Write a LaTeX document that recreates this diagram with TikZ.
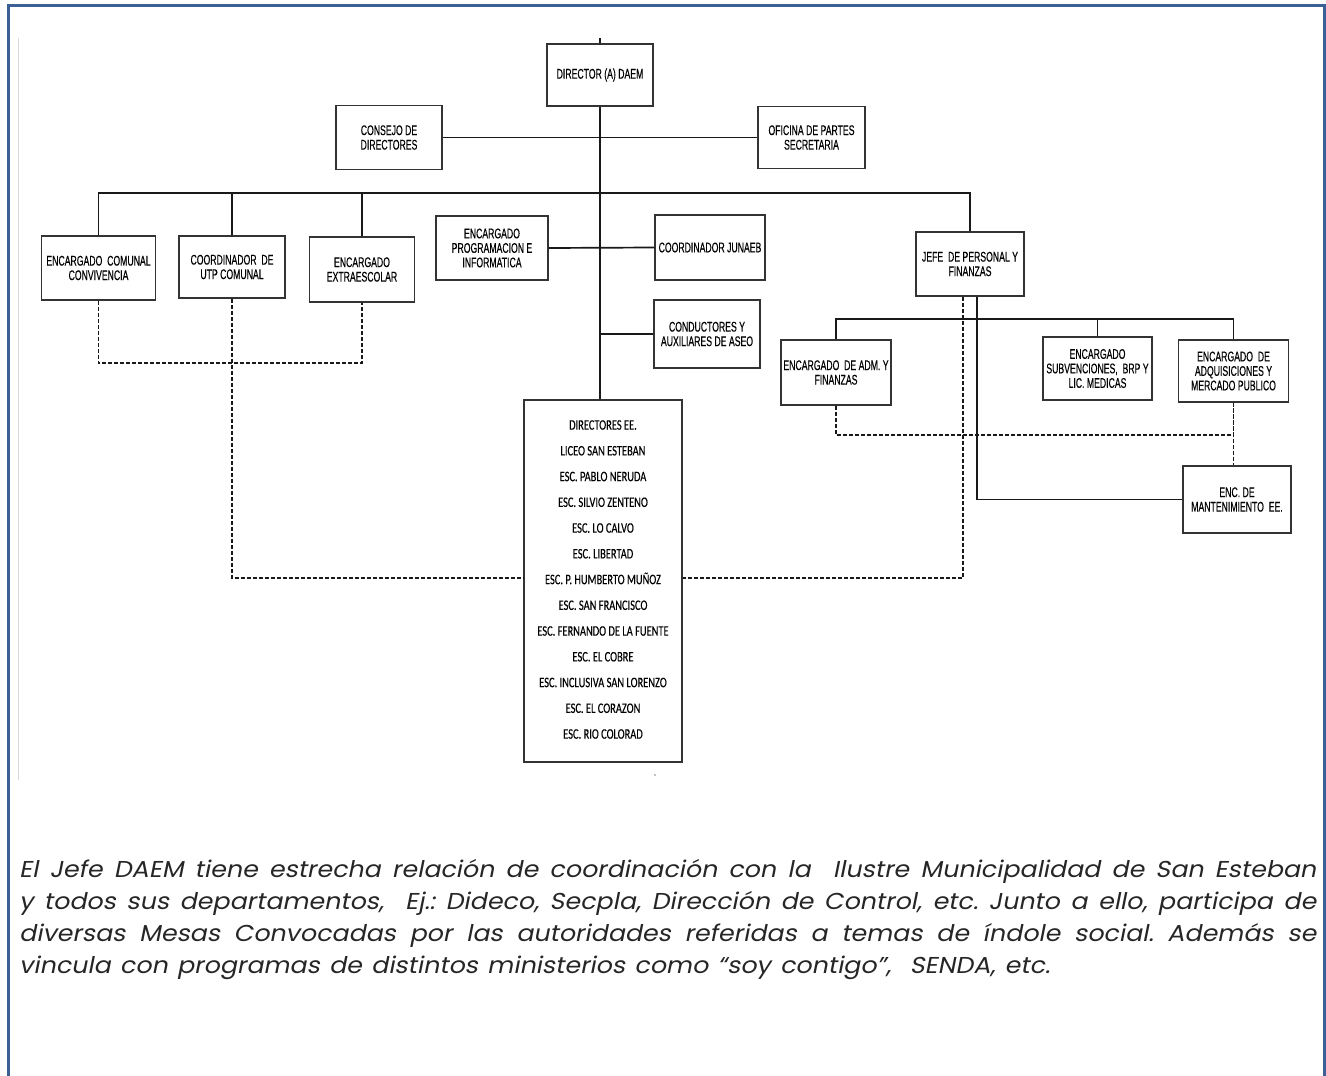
\documentclass[tikz,border=0pt]{standalone}
\usepackage{fontspec}
\usepackage{graphicx}
\newfontfamily\narrow[FakeStretch=0.62,FakeBold=0.3]{Liberation Sans}
\newfontfamily\listfont[FakeStretch=0.72,FakeBold=0.25]{Carlito}
\newfontfamily\bodyfont[FakeSlant=0.2,FakeStretch=1.1,WordSpace=0.75]{Poppins}
\definecolor{frameblue}{HTML}{3A6095}
\newsavebox\jlinebox
\newcommand\jline[2][1297pt]{\sbox\jlinebox{#2}%
  \ifdim\wd\jlinebox>#1 \resizebox{#1}{\height}{\usebox\jlinebox}%
  \else\makebox[#1][s]{#2}\fi}
\begin{document}
\begin{tikzpicture}[x=1pt,y=-1pt,
  box/.style={draw=black!80, line width=1.3pt, fill=white, align=center, inner sep=1pt,
              font=\narrow\fontsize{14}{14.5}\selectfont},
  conn/.style={line width=1.7pt, draw=black!90},
  dsh/.style={line width=1.7pt, draw=black!90, dash pattern=on 4pt off 2pt},
  bodytxt/.style={anchor=base west, inner sep=0pt, text=black!85,
              font=\bodyfont\frenchspacing\fontsize{23}{27}\selectfont}]
\useasboundingbox (0,0) rectangle (1326,1076);
% frame
\draw[frameblue, line width=3pt] (8.5,1076) -- (8.5,5.5) -- (1324,5.5) -- (1324,1076);
\draw[black!15, line width=1pt] (18,38) -- (18,780);

% boxes
\node[box, minimum width=106pt, minimum height=62pt] (dir) at (600,75) {DIRECTOR (A) DAEM};
\node[box, minimum width=106pt, minimum height=64pt] (cons) at (389,137.5) {CONSEJO DE\\DIRECTORES};
\node[box, minimum width=107pt, minimum height=62pt] (ofi) at (811.5,137.5) {OFICINA DE PARTES\\SECRETARIA};
\node[box, minimum width=114pt, minimum height=64pt] (conv) at (98.5,268) {ENCARGADO\ \ COMUNAL\\CONVIVENCIA};
\node[box, minimum width=106pt, minimum height=62pt] (utp) at (232,267) {COORDINADOR\ \ DE\\UTP COMUNAL};
\node[box, minimum width=105pt, minimum height=65pt] (extra) at (362,269.5) {ENCARGADO\\EXTRAESCOLAR};
\node[box, minimum width=112pt, minimum height=64pt] (prog) at (492,248) {ENCARGADO\\PROGRAMACION E\\INFORMATICA};
\node[box, minimum width=110pt, minimum height=65pt] (junaeb) at (710,247.5) {COORDINADOR JUNAEB};
\node[box, minimum width=106pt, minimum height=68pt] (cond) at (707,334) {CONDUCTORES Y\\AUXILIARES DE ASEO};
\node[box, minimum width=108pt, minimum height=64pt] (jefe) at (970,264) {JEFE\ \ DE PERSONAL Y\\FINANZAS};
\node[box, minimum width=110pt, minimum height=65pt] (adm) at (836,372.5) {ENCARGADO\ \ DE ADM. Y\\FINANZAS};
\node[box, minimum width=109pt, minimum height=63pt] (subv) at (1097.5,368.5) {ENCARGADO\\SUBVENCIONES,\ \ BRP Y\\LIC. MEDICAS};
\node[box, minimum width=110pt, minimum height=62pt] (adq) at (1233.5,371) {ENCARGADO\ \ DE\\ADQUISICIONES Y\\MERCADO PUBLICO};
\node[box, minimum width=108pt, minimum height=67pt] (mant) at (1237,499.5) {ENC.\ DE\\MANTENIMIENTO\ \ EE.};
\node[box, minimum width=158pt, minimum height=362pt] (list) at (603,581) {};
\node[align=center, inner sep=0pt, font=\listfont\fontsize{14.5}{25.75}\selectfont] (listtxt) at (603,579.5)
 {DIRECTORES EE.\\LICEO SAN ESTEBAN\\ESC. PABLO NERUDA\\ESC. SILVIO ZENTENO\\ESC. LO CALVO\\ESC. LIBERTAD\\ESC. P. HUMBERTO MUÑOZ\\ESC. SAN FRANCISCO\\ESC. FERNANDO DE LA FUENTE\\ESC. EL COBRE\\ESC. INCLUSIVA SAN LORENZO\\ESC. EL CORAZON\\ESC. RIO COLORAD};

% solid connectors
\coordinate (top) at (600,38);
\draw[conn] (top) -- (dir.north);
\draw[conn] (dir.south) -- (dir.south |- list.north);
\draw[conn] (cons.east) -- (ofi.west);
\draw[conn] (conv.north) -- (conv.north |- 0,193) -| (jefe.north);
\draw[conn] (utp.north) -- (utp.north |- 0,193);
\draw[conn] (extra.north) -- (extra.north |- 0,193);
\draw[conn] (prog.east) -- (junaeb.west);
\draw[conn] (cond.west) -- (cond.west -| dir.south);
\draw[conn] (adm.north) -- (adm.north |- 0,319) -| (adq.north);
\draw[conn] (subv.north) -- (subv.north |- 0,319);
\draw[conn] ([xshift=7pt]jefe.south) |- (mant.west);

% dashed connectors
\draw[dsh] (conv.south) -- (conv.south |- 0,363) -| (extra.south);
\draw[dsh] (utp.south) |- ([yshift=3pt]list.west);
\draw[dsh] ([xshift=-7pt]jefe.south) |- ([yshift=3pt]list.east);
\draw[dsh] (adm.south) -- (adm.south |- 0,435) -| (adq.south);
\draw[dsh] (adq.south) -- (adq.south |- mant.north);

\fill[black!50] (655,775) circle (0.8pt);

% body text
\node[bodytxt] (l1) at (19,877) {\jline{El Jefe DAEM tiene estrecha relación de coordinación con la\ \ Ilustre Municipalidad de San Esteban}};
\node[bodytxt] (l2) at (19,909) {\jline{y todos sus departamentos,\ \ Ej.: Dideco, Secpla, Dirección de Control, etc. Junto a ello, participa de}};
\node[bodytxt] (l3) at (19,941) {\jline{diversas Mesas Convocadas por las autoridades referidas a temas de índole social. Además se}};
\node[bodytxt] (l4) at (19,973) {\jline[1031pt]{vincula con programas de distintos ministerios como “soy contigo”,\ \ SENDA, etc.}};
\end{tikzpicture}
\end{document}
